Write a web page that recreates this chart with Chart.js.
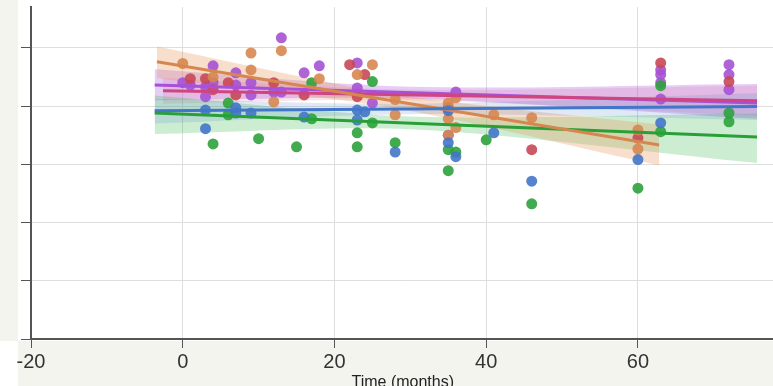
<!DOCTYPE html>
<html>
<head>
<meta charset="utf-8">
<script src="https://cdn.jsdelivr.net/npm/chart.js@4"></script>
<style>
  body { margin: 0; background: #fff; overflow: hidden; }
  canvas { display: block; }
</style>
</head>
<body>
<canvas id="chart" width="780" height="386"></canvas>
<script>
// points per group: time (months) and score
const blueT = [3, 3, 7, 7, 9, 16, 23, 24, 23, 28, 35, 35, 36, 41, 46, 60, 63];
const blueV = [3.93, 3.61, 3.97, 3.88, 3.88, 3.81, 3.93, 3.90, 3.76, 3.21, 3.92, 3.37, 3.13, 3.54, 2.71, 3.08, 3.71];

const orangeT = [0, 4, 9, 9, 13, 12, 18, 23, 25, 28, 28, 35, 35, 35, 36, 36, 41, 46, 60, 60];
const orangeV = [4.73, 4.50, 4.91, 4.62, 4.95, 4.07, 4.47, 4.54, 4.71, 4.11, 3.85, 4.05, 3.78, 3.50, 4.14, 3.63, 3.85, 3.80, 3.59, 3.26];

const greenT = [4, 6, 6, 10, 15, 17, 17, 23, 23, 25, 25, 28, 35, 35, 36, 40, 46, 60, 63, 63, 72, 72];
const greenV = [3.35, 4.05, 3.85, 3.44, 3.30, 4.40, 3.78, 3.54, 3.30, 4.42, 3.71, 3.37, 3.25, 2.89, 3.21, 3.42, 2.32, 2.59, 3.56, 4.35, 3.73, 3.88];

const redT = [1, 3, 4, 6, 7, 12, 16, 22, 24, 23, 35, 46, 60, 63, 72];
const redV = [4.47, 4.47, 4.28, 4.40, 4.19, 4.40, 4.19, 4.71, 4.54, 4.16, 3.97, 3.25, 3.45, 4.74, 4.42];

const purpleT = [0, 1, 3, 3, 4, 4, 7, 7, 9, 9, 13, 12, 13, 16, 18, 23, 23, 25, 35, 36, 63, 63, 63, 63, 72, 72, 72];
const purpleV = [4.40, 4.36, 4.33, 4.16, 4.69, 4.40, 4.57, 4.36, 4.40, 4.19, 5.17, 4.24, 4.24, 4.57, 4.69, 4.74, 4.31, 4.05, 3.50, 4.24, 4.62, 4.54, 4.40, 4.12, 4.71, 4.54, 4.28];

// fitted lines, order: blue, orange, green, red, purple
const fitX0 = [-3.7, -3.4, -3.7, -2.6, -3.7];
const fitX1 = [75.7, 62.8, 75.7, 75.7, 75.7];
const fitY0 = [3.92, 4.76, 3.88, 4.26, 4.36];
const fitY1 = [3.99, 3.33, 3.47, 4.09, 4.05];

// confidence bands: start, middle, end
const bandX = [[-3.7, 30, 75.7], [-3.4, 28, 62.8], [-3.7, 30, 75.7], [-2.6, 30, 75.7], [-3.7, 30, 75.7]];
const bandHi = [[4.12, 4.04, 4.22], [5.02, 4.20, 3.68], [4.18, 3.82, 3.87], [4.48, 4.28, 4.35], [4.63, 4.33, 4.38]];
const bandLo = [[3.70, 3.86, 3.76], [4.48, 3.96, 2.98], [3.52, 3.60, 3.02], [4.04, 4.10, 3.83], [4.10, 4.13, 3.78]];

const xTicks = [-20, 0, 20, 40, 60];

const pointCol = ['rgba(66,118,200,0.9)', 'rgba(214,135,80,0.9)', 'rgba(46,162,60,0.9)', 'rgba(200,72,85,0.9)', 'rgba(165,82,212,0.9)'];
const lineCol = ['rgb(66,118,200)', 'rgb(214,135,80)', 'rgb(40,160,55)', 'rgb(205,70,130)', 'rgb(168,80,215)'];
const bandCol = ['rgba(80,130,200,0.18)', 'rgba(232,150,90,0.3)', 'rgba(60,185,85,0.26)', 'rgba(210,80,120,0.15)', 'rgba(170,90,225,0.3)'];

const groups = [[blueT, blueV], [orangeT, orangeV], [greenT, greenV], [redT, redV], [purpleT, purpleV]];

const datasets = [];
groups.forEach(function (g, i) {
  datasets.push({
    type: 'line',
    data: bandX[i].map((x, k) => ({x: x, y: bandHi[i][k]})),
    borderWidth: 0, pointRadius: 0, fill: false, tension: 0.3, order: 3
  });
  datasets.push({
    type: 'line',
    data: bandX[i].map((x, k) => ({x: x, y: bandLo[i][k]})),
    borderWidth: 0, pointRadius: 0, fill: '-1', backgroundColor: bandCol[i], tension: 0.3, order: 3
  });
});
groups.forEach(function (g, i) {
  datasets.push({
    type: 'scatter',
    data: g[0].map((t, k) => ({x: t, y: g[1][k]})),
    backgroundColor: pointCol[i], borderWidth: 0, pointRadius: 5.5, order: 2
  });
});
groups.forEach(function (g, i) {
  datasets.push({
    type: 'line',
    data: [{x: fitX0[i], y: fitY0[i]}, {x: fitX1[i], y: fitY1[i]}],
    borderColor: lineCol[i], borderWidth: 3, pointRadius: 0, fill: false, order: 1
  });
});

const bgPlugin = {
  id: 'bg',
  beforeDraw(chart) {
    const c = chart.ctx;
    c.save();
    c.fillStyle = '#ffffff';
    c.fillRect(0, 0, chart.width, chart.height);
    c.fillStyle = '#f4f4ef';
    c.fillRect(0, 0, 18, 341);
    c.fillRect(18, 341, chart.width, chart.height - 341);
    c.restore();
  }
};

new Chart(document.getElementById('chart'), {
  type: 'scatter',
  data: { datasets: datasets },
  plugins: [bgPlugin],
  options: {
    responsive: false,
    animation: false,
    devicePixelRatio: 1,
    layout: { padding: { top: 7, right: 0, left: 0, bottom: 0 } },
    plugins: { legend: { display: false }, tooltip: { enabled: false } },
    scales: {
      x: {
        type: 'linear', min: -20, max: 78,
        afterBuildTicks: s => { s.ticks = xTicks.map(v => ({value: v})); },
        afterFit: s => { s.height = 47; },
        grid: { color: '#dedede', tickColor: '#555', tickLength: 9, lineWidth: 1 },
        border: { color: '#555', width: 2 },
        ticks: { color: '#333', padding: 2, font: { family: 'Liberation Sans', size: 20 } },
        title: { display: true, text: 'Time (months)', color: '#222', padding: 0,
                 font: { family: 'Liberation Sans', size: 16, lineHeight: 0.45 } }
      },
      y: {
        type: 'linear', min: 0, max: 5.7,
        ticks: { stepSize: 1, includeBounds: false, display: false },
        afterFit: s => { s.width = 31; },
        grid: { color: '#dedede', tickColor: '#555', tickLength: 10, lineWidth: 1 },
        border: { color: '#555', width: 2 }
      }
    }
  }
});
</script>
</body>
</html>
